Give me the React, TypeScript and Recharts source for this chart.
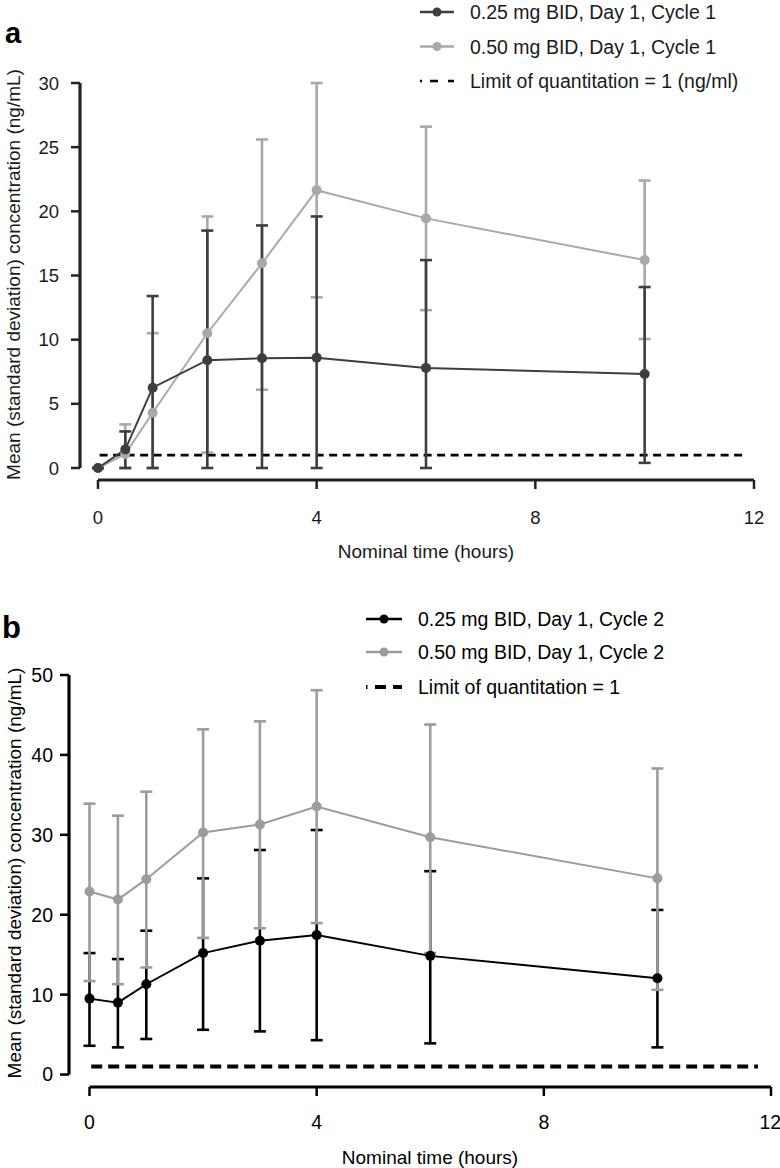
import React from 'react';
import { ComposedChart, Line, ErrorBar, XAxis, YAxis, ReferenceLine, Legend, Label } from 'recharts';

const hours = [0, 0.5, 1, 2, 3, 4, 6, 10];
const hourTicks = [0, 4, 8, 12];

// panel a: Day 1, Cycle 1
const c1LowMean = [0, 1.45, 6.26, 8.4, 8.55, 8.6, 7.8, 7.33];
const c1LowMin = [0, 0, 0, 0, 0, 0, 0, 0.4];
const c1LowMax = [0, 2.85, 13.4, 18.5, 18.9, 19.6, 16.2, 14.1];
const c1HighMean = [0, 1.1, 4.3, 10.5, 15.95, 21.65, 19.45, 16.2];
const c1HighMin = [0, 0, 0, 1.2, 6.1, 13.3, 12.3, 10.05];
const c1HighMax = [0, 3.4, 10.5, 19.6, 25.6, 30, 26.6, 22.4];
const c1Ticks = [0, 5, 10, 15, 20, 25, 30];
const c1Legend = ['0.25 mg BID, Day 1, Cycle 1', '0.50 mg BID, Day 1, Cycle 1', 'Limit of quantitation = 1 (ng/ml)'];

// panel b: Day 1, Cycle 2
const c2LowMean = [9.5, 9.0, 11.3, 15.2, 16.75, 17.45, 14.85, 12.05];
const c2LowMin = [3.6, 3.4, 4.45, 5.6, 5.4, 4.3, 3.9, 3.4];
const c2LowMax = [15.2, 14.45, 18.0, 24.55, 28.1, 30.6, 25.45, 20.6];
const c2HighMean = [22.9, 21.9, 24.45, 30.3, 31.3, 33.55, 29.7, 24.55];
const c2HighMin = [11.7, 11.3, 13.4, 17.1, 18.3, 18.95, 15.2, 10.6];
const c2HighMax = [33.9, 32.4, 35.4, 43.2, 44.2, 48.1, 43.8, 38.3];
const c2Ticks = [0, 10, 20, 30, 40, 50];
const c2Legend = ['0.25 mg BID, Day 1, Cycle 2', '0.50 mg BID, Day 1, Cycle 2', 'Limit of quantitation = 1'];

const loq = 1;
const yTitle = 'Mean (standard deviation) concentration (ng/mL)';
const xTitle = 'Nominal time (hours)';

const toRows = (lowMean: number[], lowMin: number[], lowMax: number[], highMean: number[], highMin: number[], highMax: number[]) =>
  hours.map((t, i) => ({
    t,
    low: lowMean[i],
    lowErr: [lowMean[i] - lowMin[i], lowMax[i] - lowMean[i]],
    high: highMean[i],
    highErr: [highMean[i] - highMin[i], highMax[i] - highMean[i]],
  }));

const FONT = '"Liberation Sans", Arial, Helvetica, sans-serif';

type PanelCfg = {
  rows: any[];
  ticks: number[];
  legend: string[];
  top: number;
  height: number;
  marginTop: number;
  marginRight: number;
  yAxisWidth: number;
  xAxisHeight: number;
  xMin: number;
  yMin: number;
  yMax: number;
  loqEnd: number;
  lowColor: string;
  highColor: string;
  lowBarsOnTop: boolean;
  axisColor: string;
  textColor: string;
  tickFont: number;
  titleFont: number;
  yTickMargin: number;
  xTickMargin: number;
  yTitleX: number;
  yTitleShift: number;
  xTitleX: number;
  xTitleDy: number;
  legendLeft: number;
  legendRows: number[];
  legendSym: [number, number];
  legendTextX: number;
  loqWidth: number;
  loqDash: string;
  legendDash: string;
  ebWidth: number;
};

const Panel = ({ c }: { c: PanelCfg }) => {
  const legendContent = () => (
    <svg width={400} height={120} style={{ display: 'block', overflow: 'visible', fontFamily: FONT }}>
      {c.legend.map((label, i) => {
        const y = c.legendRows[i];
        const [x1, x2] = c.legendSym;
        const color = i === 0 ? c.lowColor : c.highColor;
        return (
          <g key={label}>
            {i < 2 ? (
              <>
                <line x1={x1} x2={x2} y1={y} y2={y} stroke={color} strokeWidth={2.5} />
                <circle cx={(x1 + x2) / 2} cy={y} r={4.5} fill={color} />
              </>
            ) : (
              <line x1={x1} x2={x2} y1={y} y2={y} stroke="#000" strokeWidth={c.loqWidth} strokeDasharray={c.legendDash} />
            )}
            <text x={c.legendTextX} y={y} dominantBaseline="central" fontSize={19.5} fill={c.textColor}>
              {label}
            </text>
          </g>
        );
      })}
    </svg>
  );

  const yTitleContent = (props: any) => {
    const vb = props.viewBox;
    const cy = vb.y + vb.height / 2 + c.yTitleShift;
    return (
      <text
        x={c.yTitleX}
        y={cy}
        transform={`rotate(-90 ${c.yTitleX} ${cy})`}
        textAnchor="middle"
        dominantBaseline="central"
        fontSize={c.titleFont}
        fill={c.textColor}
      >
        {yTitle}
      </text>
    );
  };

  const xTitleContent = (props: any) => {
    const vb = props.viewBox;
    return (
      <text x={c.xTitleX} y={vb.y + c.xTitleDy} textAnchor="middle" fontSize={c.titleFont} fill={c.textColor}>
        {xTitle}
      </text>
    );
  };

  const highBars = (
    <Line key="hb" dataKey="high" stroke="none" dot={false} activeDot={false} isAnimationActive={false} legendType="none">
      <ErrorBar dataKey="highErr" width={c.ebWidth} strokeWidth={2.6} stroke={c.highColor} direction="y" />
    </Line>
  );
  const lowBars = (
    <Line key="lb" dataKey="low" stroke="none" dot={false} activeDot={false} isAnimationActive={false} legendType="none">
      <ErrorBar dataKey="lowErr" width={c.ebWidth} strokeWidth={2.6} stroke={c.lowColor} direction="y" />
    </Line>
  );

  return (
    <div style={{ position: 'absolute', left: 0, top: c.top }}>
      <ComposedChart
        width={780}
        height={c.height}
        data={c.rows}
        margin={{ top: c.marginTop, right: c.marginRight, bottom: 0, left: 0 }}
        style={{ fontFamily: FONT }}
      >
        <XAxis
          type="number"
          dataKey="t"
          domain={[c.xMin, 12]}
          ticks={hourTicks}
          allowDataOverflow
          axisLine={false}
          tickLine={{ stroke: c.axisColor, strokeWidth: 2.5 }}
          tickSize={9}
          tickMargin={c.xTickMargin}
          tick={{ fontSize: c.tickFont, fill: c.textColor }}
          height={c.xAxisHeight}
        >
          <Label content={xTitleContent} />
        </XAxis>
        <YAxis
          type="number"
          domain={[c.yMin, c.yMax]}
          ticks={c.ticks}
          allowDataOverflow
          axisLine={false}
          tickLine={{ stroke: c.axisColor, strokeWidth: 2.5 }}
          tickSize={9}
          tickMargin={c.yTickMargin}
          tick={{ fontSize: c.tickFont, fill: c.textColor }}
          width={c.yAxisWidth}
        >
          <Label content={yTitleContent} />
        </YAxis>
        <ReferenceLine
          segment={[{ x: c.xMin, y: 0 }, { x: c.xMin, y: c.yMax }]}
          stroke={c.axisColor}
          strokeWidth={3.2}
          ifOverflow="visible"
        />
        <ReferenceLine
          segment={[{ x: 0, y: c.yMin }, { x: 12, y: c.yMin }]}
          stroke={c.axisColor}
          strokeWidth={2.8}
          ifOverflow="visible"
        />
        <ReferenceLine
          segment={[{ x: 0.03, y: loq }, { x: c.loqEnd, y: loq }]}
          stroke="#000"
          strokeWidth={c.loqWidth}
          strokeDasharray={c.loqDash}
          ifOverflow="visible"
        />
        {c.lowBarsOnTop ? highBars : lowBars}
        {c.lowBarsOnTop ? lowBars : highBars}
        <Line
          dataKey="high"
          type="linear"
          stroke={c.highColor}
          strokeWidth={2}
          dot={{ r: 5, fill: c.highColor, stroke: c.highColor, strokeWidth: 0 }}
          activeDot={false}
          isAnimationActive={false}
        />
        <Line
          dataKey="low"
          type="linear"
          stroke={c.lowColor}
          strokeWidth={2}
          dot={{ r: 5, fill: c.lowColor, stroke: c.lowColor, strokeWidth: 0 }}
          activeDot={false}
          isAnimationActive={false}
        />
        <Legend
          layout="horizontal"
          verticalAlign="middle"
          align="center"
          content={legendContent}
          wrapperStyle={{ position: 'absolute', left: c.legendLeft, top: 0, width: 400, height: 120 }}
        />
      </ComposedChart>
    </div>
  );
};

const panelA: PanelCfg = {
  rows: toRows(c1LowMean, c1LowMin, c1LowMax, c1HighMean, c1HighMin, c1HighMax),
  ticks: c1Ticks,
  legend: c1Legend,
  top: 0,
  height: 580,
  marginTop: 83,
  marginRight: 26,
  yAxisWidth: 80,
  xAxisHeight: 100,
  xMin: -0.329,
  yMin: -0.935,
  yMax: 30,
  loqEnd: 11.87,
  lowColor: '#3e3e3e',
  highColor: '#a9a9a9',
  lowBarsOnTop: true,
  axisColor: '#222',
  textColor: '#1a1a1a',
  tickFont: 18.5,
  titleFont: 19,
  yTickMargin: 12,
  xTickMargin: 22,
  yTitleX: 13,
  yTitleShift: -7,
  xTitleX: 426,
  xTitleDy: 78,
  legendLeft: 410,
  legendRows: [12, 46.5, 81],
  legendSym: [10, 44],
  legendTextX: 60,
  loqWidth: 2.6,
  loqDash: '8 5.5',
  legendDash: '2 8 8 10 8 100',
  ebWidth: 6,
};

const panelB: PanelCfg = {
  rows: toRows(c2LowMean, c2LowMin, c2LowMax, c2HighMean, c2HighMin, c2HighMax),
  ticks: c2Ticks,
  legend: c2Legend,
  top: 580,
  height: 588,
  marginTop: 95,
  marginRight: 9,
  yAxisWidth: 69,
  xAxisHeight: 81,
  xMin: -0.361,
  yMin: -1.56,
  yMax: 50,
  loqEnd: 11.77,
  lowColor: '#000',
  highColor: '#9c9c9c',
  lowBarsOnTop: false,
  axisColor: '#000',
  textColor: '#000',
  tickFont: 19.5,
  titleFont: 19,
  yTickMargin: 7,
  xTickMargin: 19,
  yTitleX: 14,
  yTitleShift: -8,
  xTitleX: 430,
  xTitleDy: 77,
  legendLeft: 356,
  legendRows: [39, 72, 107],
  legendSym: [10, 46],
  legendTextX: 62,
  loqWidth: 4,
  loqDash: '11 6',
  legendDash: '1.5 7.5 11 7 11 100',
  ebWidth: 6,
};

export default function App() {
  return (
    <div style={{ position: 'absolute', left: 0, top: 0, width: 780, height: 1168, background: '#fff', fontFamily: FONT }}>
      <Panel c={panelA} />
      <Panel c={panelB} />
      <svg width={780} height={1168} style={{ position: 'absolute', left: 0, top: 0, pointerEvents: 'none' }}>
        <text x={5} y={43} fontSize={29} fontWeight="bold" fill="#000" fontFamily={FONT}>a</text>
        <text x={2} y={638} fontSize={31} fontWeight="bold" fill="#000" fontFamily={FONT}>b</text>
      </svg>
    </div>
  );
}
